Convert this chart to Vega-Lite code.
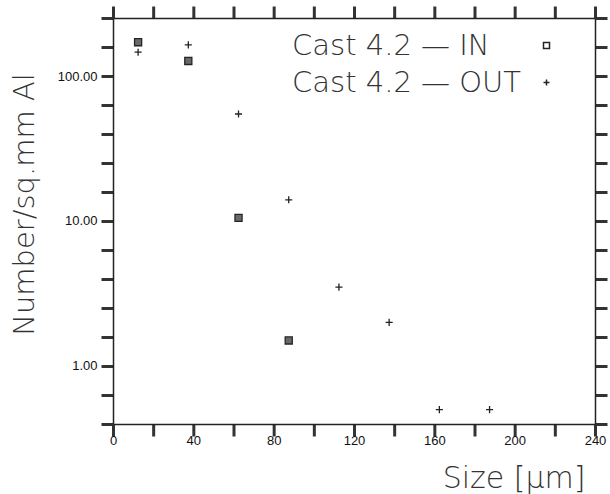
{
  "$schema": "https://vega.github.io/schema/vega-lite/v6.json",
  "autosize": {"type": "none"},
  "padding": {"left": 113, "top": 18, "right": 15, "bottom": 70},
  "width": 482,
  "height": 406,
  "background": "white",
  "config": {
    "view": {"stroke": null},
    "axis": {
      "grid": false,
      "domainColor": "#222",
      "domainWidth": 1.5,
      "labelFont": "Liberation Sans",
      "labelFontSize": 13,
      "labelColor": "#111",
      "titleFont": "DejaVu Sans",
      "titleFontWeight": 200,
      "titleColor": "#333"
    }
  },
  "data": {
    "values": [
      {"size": 12.5, "count": 171, "series": "Cast 4.2 — IN"},
      {"size": 37.5, "count": 127, "series": "Cast 4.2 — IN"},
      {"size": 62.5, "count": 10.5, "series": "Cast 4.2 — IN"},
      {"size": 87.5, "count": 1.5, "series": "Cast 4.2 — IN"},
      {"size": 12.5, "count": 146, "series": "Cast 4.2 — OUT"},
      {"size": 37.5, "count": 164, "series": "Cast 4.2 — OUT"},
      {"size": 62.5, "count": 54.7, "series": "Cast 4.2 — OUT"},
      {"size": 87.5, "count": 14, "series": "Cast 4.2 — OUT"},
      {"size": 112.5, "count": 3.5, "series": "Cast 4.2 — OUT"},
      {"size": 137.5, "count": 2.0, "series": "Cast 4.2 — OUT"},
      {"size": 162.5, "count": 0.5, "series": "Cast 4.2 — OUT"},
      {"size": 187.5, "count": 0.5, "series": "Cast 4.2 — OUT"}
    ]
  },
  "resolve": {"axis": {"x": "independent", "y": "independent"}},
  "layer": [
    {
      "mark": {"type": "point", "filled": false, "color": "#222", "strokeWidth": 1.3, "opacity": 1, "size": 50},
      "encoding": {
        "x": {
          "field": "size", "type": "quantitative",
          "scale": {"domain": [0, 240], "nice": false, "zero": false},
          "axis": {
            "orient": "bottom",
            "ticks": true,
            "tickColor": "#333333",
            "tickWidth": 3,
            "tickSize": 12,
            "tickOpacity": 1,
            "tickRound": false,
            "values": [0, 20, 40, 60, 80, 100, 120, 140, 160, 180, 200, 220, 240],
            "labelExpr": "datum.value % 40 == 0 ? datum.label : ''",
            "labelPadding": -2,
            "labelFlush": false,
            "labelOverlap": false,
            "title": "Size [µm]",
            "titleFontSize": 30,
            "titleAnchor": "end",
            "titleAlign": "right",
            "titleBaseline": "alphabetic",
            "titleX": 472,
            "titleY": 63
          }
        },
        "y": {
          "field": "count", "type": "quantitative",
          "scale": {"type": "log", "domain": [0.398107, 251.188643], "nice": false},
          "axis": {
            "orient": "left",
            "ticks": true,
            "tickColor": "#333333",
            "tickWidth": 3,
            "tickSize": 12,
            "tickOpacity": 1,
            "tickRound": false,
            "values": [0.398107, 0.630957, 1, 1.584893, 2.511886, 3.981072, 6.309573, 10, 15.848932, 25.118864, 39.810717, 63.095734, 100, 158.489319, 251.188643],
            "labelExpr": "(datum.value == 1 || datum.value == 10 || datum.value == 100) ? format(datum.value, '.2f') : ''",
            "labelPadding": 4,
            "labelOverlap": false,
            "labelFlush": false,
            "title": "Number/sq.mm Al",
            "titleFontSize": 29,
            "titleAngle": -90,
            "titleAlign": "center",
            "titleBaseline": "alphabetic",
            "titleX": -80,
            "titleY": 186
          }
        },
        "shape": {
          "field": "series", "type": "nominal",
          "scale": {"domain": ["Cast 4.2 — IN", "Cast 4.2 — OUT"], "range": ["square", "M-1,0L1,0M0,-1L0,1"]},
          "legend": {
            "orient": "none",
            "legendX": 419,
            "legendY": 13,
            "title": null,
            "padding": 0,
            "symbolSize": 36,
            "symbolStrokeColor": "#222",
            "symbolStrokeWidth": 1.5,
            "labelFont": "DejaVu Sans",
            "labelFontWeight": 200,
            "labelFontSize": 29,
            "labelColor": "#333",
            "labelOffset": -269,
            "labelLimit": 400,
            "rowPadding": 7
          }
        }
      }
    },
    {
      "mark": {"type": "point", "filled": true, "color": "#2a2a2a", "size": 50},
      "transform": [{"filter": "datum.series == 'Cast 4.2 — IN'"}],
      "encoding": {
        "x": {
          "field": "size", "type": "quantitative",
          "axis": {
            "orient": "top",
            "ticks": true,
            "tickColor": "#333333",
            "tickWidth": 3,
            "tickSize": 12,
            "tickOpacity": 1,
            "tickRound": false,
            "values": [0, 20, 40, 60, 80, 100, 120, 140, 160, 180, 200, 220, 240],
            "labels": false,
            "title": null
          }
        },
        "y": {
          "field": "count", "type": "quantitative",
          "axis": {
            "orient": "right",
            "ticks": true,
            "tickColor": "#333333",
            "tickWidth": 3,
            "tickSize": 12,
            "tickOpacity": 1,
            "tickRound": false,
            "values": [0.398107, 0.630957, 1, 1.584893, 2.511886, 3.981072, 6.309573, 10, 15.848932, 25.118864, 39.810717, 63.095734, 100, 158.489319, 251.188643],
            "labels": false,
            "title": null
          }
        },
        "shape": {"value": "square"}
      }
    }
  ]
}
